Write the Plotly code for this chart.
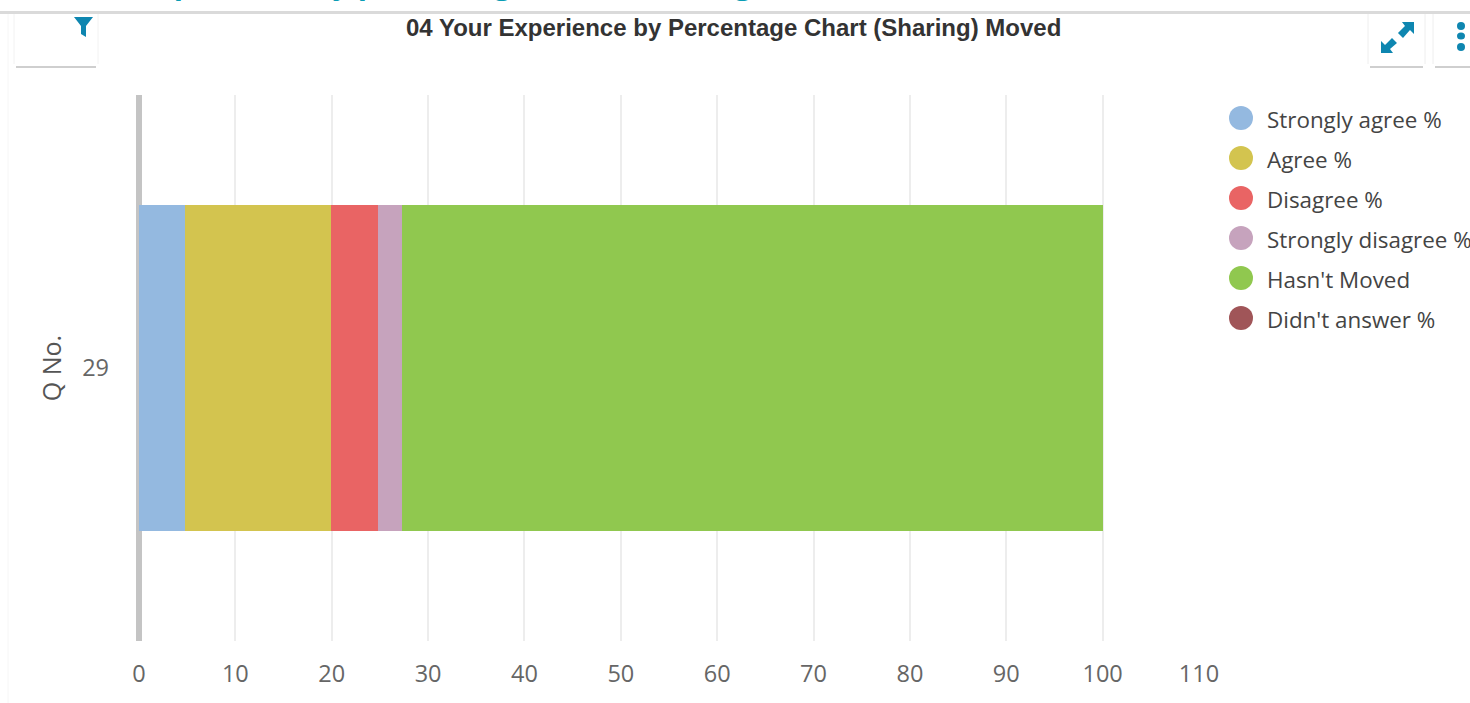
import plotly.graph_objects as go

W, H = 1470, 703
categories = ["29"]
series_names = ["Strongly agree %", "Agree %", "Disagree %", "Strongly disagree %", "Hasn't Moved", "Didn't answer %"]
series_values = [4.8, 15.1, 4.9, 2.5, 72.7, 0]
series_colors = ["#94B9E0", "#D3C44F", "#E96464", "#C6A3BD", "#90C84F", "#A05558"]
x_ticks = list(range(0, 111, 10))
FONT = "Open Sans"
TEAL = "#0E86B0"

def px(x): return x / W
def py(y): return 1 - y / H
def path(points):
    return "M " + " L ".join(f"{px(x):.5f},{py(y):.5f}" for x, y in points) + " Z"
def pline(x0, y0, x1, y1, color, width=1):
    return dict(type="line", xref="paper", yref="paper", x0=px(x0), x1=px(x1), y0=py(y0), y1=py(y1),
                line=dict(color=color, width=width), layer="below")
def icon(points):
    return dict(type="path", xref="paper", yref="paper", line=dict(width=0), fillcolor=TEAL,
                layer="above", path=path(points))

fig = go.Figure()
for n, v, c in zip(series_names, series_values, series_colors):
    fig.add_trace(go.Bar(name=n, x=[v], y=categories, orientation="h",
                         marker=dict(color=c, line=dict(width=0)), showlegend=False))

shapes, annos = [], []
for i, (n, c) in enumerate(zip(series_names, series_colors)):
    cy = 118 + 40 * i
    shapes.append(dict(type="circle", xref="paper", yref="paper", x0=px(1229), x1=px(1253),
                       y0=py(cy + 12), y1=py(cy - 12), fillcolor=c, line=dict(width=0), layer="above"))
    annos.append(dict(text=n, xref="paper", yref="paper", x=px(1265), y=py(cy + 1.5), xanchor="left",
                      yanchor="middle", showarrow=False, font=dict(family=FONT, size=22.4, color="#444444")))

shapes += [
    dict(type="rect", xref="paper", yref="paper", x0=0, x1=1, y0=py(14), y1=py(11),
         fillcolor="#DADADA", line=dict(width=0), layer="below"),
    pline(8, 14, 8, 703, "#F6F6F6"),
    # filter button
    pline(16, 67, 96, 67, "#CFCFCF", 2), pline(14, 14, 14, 64, "#F2F2F2"), pline(98, 14, 98, 64, "#F2F2F2"),
    # expand button
    pline(1370, 67, 1423, 67, "#CFCFCF", 2), pline(1368, 14, 1368, 64, "#EEEEEE"), pline(1425, 14, 1425, 64, "#EEEEEE"),
    # menu button
    pline(1435, 67, 1470, 67, "#CFCFCF", 2), pline(1433, 14, 1433, 64, "#EEEEEE"),
    # filter icon
    icon([(74, 17), (93, 17), (86, 26), (86, 37), (81, 34), (81, 26)]),
    # expand icon: upper-right and lower-left arrows
    icon([(1402, 22), (1414, 22), (1414, 34), (1410, 30), (1403, 38), (1398, 33), (1405, 26)]),
    icon([(1381, 41), (1385, 45), (1392, 38), (1397, 43), (1390, 49), (1393, 53), (1381, 53)]),
]
for cy, r in ((26, 4), (36, 3.5), (47, 4)):
    shapes.append(dict(type="circle", xref="paper", yref="paper", x0=px(1457), x1=px(1465),
                       y0=py(cy + r), y1=py(cy - r), fillcolor=TEAL, line=dict(width=0), layer="above"))

annos += [
    dict(text="04 Your Experience by Percentage Chart (Sharing) Moved", xref="paper", yref="paper",
         x=px(733), y=py(28), xanchor="center", yanchor="middle", showarrow=False,
         font=dict(family="Liberation Sans", size=24, color="#333333", weight="bold")),
    dict(text="04 Your Experience by percentage chart (Sharing)", xref="paper", yref="paper",
         x=px(16), y=py(4), xanchor="left", yanchor="bottom", showarrow=False, borderpad=0,
         font=dict(family=FONT, size=30.4, color="#0A9DB5", weight="bold")),
]

fig.update_layout(
    width=W, height=H, barmode="stack", bargap=0.402,
    margin=dict(l=0, r=0, t=0, b=0, autoexpand=False), autosize=False,
    paper_bgcolor="white", plot_bgcolor="white",
    shapes=shapes, annotations=annos, showlegend=False,
    xaxis=dict(domain=[px(139), px(1199)], range=[0, 110], tickvals=x_ticks,
               showgrid=True, gridcolor="#EDEDED", gridwidth=2, zeroline=True,
               zerolinecolor="#C4C4C4", zerolinewidth=6,
               showline=False, ticks="", ticklabelstandoff=16,
               tickfont=dict(family=FONT, size=23.5, color="#666666")),
    yaxis=dict(domain=[py(641), py(95)], type="category", showline=False,
               showgrid=False, ticks="", ticklabelstandoff=29,
               tickfont=dict(family=FONT, size=23.5, color="#666666"),
               title=dict(text="Q No.", standoff=13, font=dict(family=FONT, size=25, color="#555555"))),
    hovermode=False,
)
fig.write_html("out.html", config=dict(displayModeBar=False),
               post_script="document.body.style.margin='0';document.body.style.overflow='hidden';")
